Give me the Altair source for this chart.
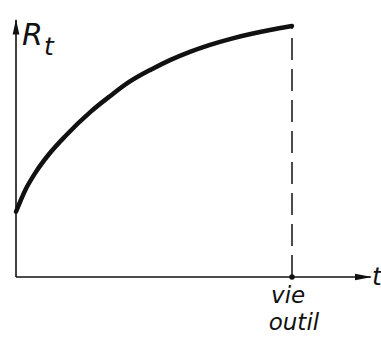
import altair as alt
import pandas as pd

# Resistance curve R_t over time t, up to tool life ("vie outil")
t_vals = [0, 3.3, 7, 12, 18, 27, 34, 41, 49, 56, 63, 70, 77.5, 85, 92, 100]
r_vals = [26, 34.5, 41.5, 49, 56.3, 65.8, 72, 77.7, 82.7, 86.5, 89.7, 92.4, 94.8, 96.8, 98.4, 100]

tool_life = 100
tool_life_r = 100

curve = pd.DataFrame({"t": t_vals, "R": r_vals})

FONT = "DejaVu Sans"
INK = "#111111"

xs = alt.Scale(domain=[0, 100], range=[16, 292], nice=False, zero=False)
ys = alt.Scale(domain=[0, 100], range=[277, 26], nice=False, zero=False)

X = lambda v: alt.X(datum=v, scale=xs, axis=None)
Y = lambda v: alt.Y(datum=v, scale=ys, axis=None)

base = alt.Chart(pd.DataFrame({"k": [0]}))

# axes drawn as plain lines
y_axis = base.mark_rule(color=INK, strokeWidth=1.6).encode(
    x=X(0), y=Y(0), y2=alt.Y2(datum=102.5)
)
x_axis = base.mark_rule(color=INK, strokeWidth=1.6).encode(
    x=X(0), x2=alt.X2(datum=128.5), y=Y(0)
)
y_arrow = base.mark_point(
    shape="M0,-1L0.45,1L-0.45,1Z", filled=True, opacity=1, color=INK, size=225
).encode(x=X(0), y=Y(99.6))
x_arrow = base.mark_point(
    shape="M1,0L-1,-0.38L-1,0.38Z", filled=True, opacity=1, color=INK, size=289
).encode(x=X(125.9), y=Y(0))

line = alt.Chart(curve).mark_line(
    color=INK, strokeWidth=4.5, strokeCap="round", interpolate="monotone"
).encode(
    x=alt.X("t:Q", scale=xs, axis=None),
    y=alt.Y("R:Q", scale=ys, axis=None),
)

dashed = base.mark_rule(color=INK, strokeWidth=1.5, strokeDash=[22, 9]).encode(
    x=X(tool_life), y=Y(0), y2=alt.Y2(datum=tool_life_r)
)
dot = base.mark_circle(color=INK, size=30, opacity=1).encode(x=X(tool_life), y=Y(0))


def label(text, tx, ry, size, align="left"):
    return base.mark_text(
        text=text, font=FONT, fontStyle="italic", fontSize=size,
        color=INK, align=align, baseline="alphabetic"
    ).encode(x=X(tx), y=Y(ry))


labels = [
    label("R", 2.2, 92.4, 30),
    label("t", 10.1, 88.4, 25),
    label("t", 129.0, -3.2, 25),
    label("vie", 98.6, -10.4, 23, "center"),
    label("outil", 100.7, -21.1, 23, "center"),
]

chart = alt.layer(
    y_axis, x_axis, y_arrow, x_arrow, line, dashed, dot, *labels
).properties(
    width=381, height=345, autosize=alt.AutoSizeParams(type="none"), padding=0,
    background="white"
).configure_view(stroke=None)

chart.save("out.html", embed_options={"renderer": "svg", "actions": False})
